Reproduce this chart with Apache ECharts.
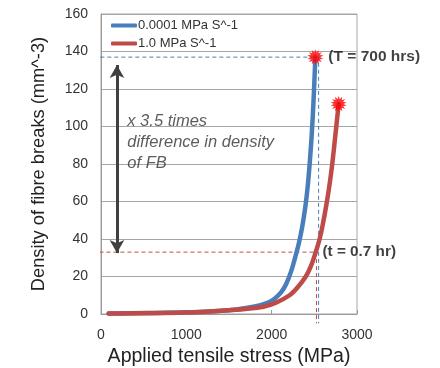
<!DOCTYPE html>
<html>
<head>
<meta charset="utf-8">
<script src="https://cdn.jsdelivr.net/npm/echarts@6/dist/echarts.min.js"></script>
<style>
  html, body { margin: 0; padding: 0; background: #fff; }
  #chart { width: 440px; height: 368px; }
</style>
</head>
<body>
<div id="chart"></div>
<script>
// stress (MPa) vs density of fibre breaks (mm^-3)
const slowStress = [90, 500, 1000, 1500, 1800, 1950, 2030, 2110, 2170, 2230, 2277, 2320, 2360, 2394, 2420, 2445, 2470, 2492, 2512]
const slowDensity = [0.3, 0.5, 0.9, 2, 4, 6, 8, 11.5, 16, 23, 30.5, 38, 47, 57, 67, 80, 96, 115, 137]
const fastStress = [90, 1000, 1500, 1906, 2050, 2210, 2300, 2400, 2460, 2512, 2562, 2600, 2640, 2675, 2710, 2748, 2785]
const fastDensity = [0.3, 0.8, 2, 3.9, 6, 10, 14, 20, 25.5, 32.4, 40, 48, 58, 68, 80, 96, 112]

const seriesNames = ['0.0001 MPa S^-1', '1.0 MPa S^-1']
const xTicks = [0, 3000, 1000]
const yTicks = [0, 160, 20]

// guide lines
const blueGuideX = [-90, 2550, 2550]
const blueGuideY = [137, 137, -5]
const redGuideX = [-100, 2525, 2525]
const redGuideY = [33, 33, -5]
const arrowX = 187
const arrowY = [132.8, 32.5]

const noteLines = ['x 3.5 times', 'difference in density', 'of FB']
const notePos = [308, 91.5]
const slowNote = '(T = 700 hrs)'
const fastNote = '(t = 0.7 hr)'

const zip = (xs, ys) => xs.map((x, i) => [x, ys[i]])

// spiky starburst symbol
let star = 'path://'
const spikes = 14
for (let i = 0; i < spikes * 2; i++) {
  const r = i % 2 === 0 ? 50 : 30
  const a = Math.PI * i / spikes
  star += (i === 0 ? 'M' : 'L') + (50 + r * Math.sin(a)).toFixed(1) + ',' + (50 - r * Math.cos(a)).toFixed(1)
}
star += 'Z'

const font = 'Liberation Sans, Arial, sans-serif'
const chart = echarts.init(document.getElementById('chart'))

const dashed = (data, color) => ({
  type: 'line',
  data: data,
  symbol: 'none',
  clip: false,
  silent: true,
  lineStyle: { color: color, width: 1, type: [4, 3] },
  z: 1
})

chart.setOption({
  animation: false,
  textStyle: { fontFamily: font },
  grid: {
    left: 101, right: 83, top: 14, bottom: 54,
    outerBoundsMode: 'none',
    show: true, borderColor: '#a6a6a6', borderWidth: 1
  },
  legend: {
    orient: 'vertical',
    left: 106,
    top: 14,
    itemWidth: 26,
    itemHeight: 4,
    itemGap: 5,
    icon: 'roundRect',
    data: seriesNames,
    textStyle: { fontFamily: font, fontSize: 13, color: '#333', padding: [0, 0, 0, -4] }
  },
  xAxis: {
    type: 'value',
    min: xTicks[0],
    max: xTicks[1],
    interval: xTicks[2],
    name: 'Applied tensile stress (MPa)',
    nameLocation: 'middle',
    nameGap: 29,
    nameTextStyle: { fontSize: 19.5, color: '#222' },
    axisLine: { lineStyle: { color: '#999' } },
    axisTick: { show: true, inside: true, length: 4, lineStyle: { color: '#999' } },
    axisLabel: { fontSize: 14, color: '#333', margin: 14, formatter: v => String(v) },
    splitLine: { show: false }
  },
  yAxis: {
    type: 'value',
    min: yTicks[0],
    max: yTicks[1],
    interval: yTicks[2],
    name: 'Density of fibre breaks (mm^-3)',
    nameLocation: 'middle',
    nameGap: 53,
    nameTextStyle: { fontSize: 18.3, color: '#222' },
    axisLine: { show: true, lineStyle: { color: '#999' } },
    axisTick: { show: false },
    axisLabel: { fontSize: 14, color: '#333', margin: 13 },
    splitLine: { lineStyle: { color: '#a6a6a6' } }
  },
  series: [
    dashed(zip(blueGuideX, blueGuideY), '#4a7ebb'),
    dashed(zip(redGuideX, redGuideY), '#be4b48'),
    {
      name: seriesNames[0],
      type: 'line',
      data: zip(slowStress, slowDensity),
      smooth: 0.35,
      symbol: 'none',
      color: '#4a7ebb',
      lineStyle: { width: 4.5, cap: 'round', join: 'round' },
      z: 3
    },
    {
      name: seriesNames[1],
      type: 'line',
      data: zip(fastStress, fastDensity),
      smooth: 0.35,
      symbol: 'none',
      color: '#be4b48',
      lineStyle: { width: 4.5, cap: 'round', join: 'round' },
      z: 4
    },
    {
      type: 'scatter',
      symbol: star,
      symbolSize: 16,
      itemStyle: { color: '#ff0000' },
      z: 6,
      data: [
        {
          value: [slowStress[slowStress.length - 1], slowDensity[slowDensity.length - 1]],
          label: { show: true, position: 'right', distance: 5, formatter: slowNote, fontWeight: 'bold', fontSize: 15.5, color: '#111' }
        },
        { value: [fastStress[fastStress.length - 1], fastDensity[fastDensity.length - 1]] }
      ]
    },
    {
      type: 'scatter',
      symbolSize: 0,
      silent: true,
      z: 6,
      data: [
        {
          value: [redGuideX[1], redGuideY[1]],
          label: { show: true, position: 'right', distance: 6, formatter: fastNote, fontWeight: 'bold', fontSize: 15.3, color: '#111' }
        },
        {
          value: notePos,
          label: {
            show: true,
            position: 'right',
            distance: 0,
            formatter: noteLines.join('\n'),
            fontStyle: 'italic',
            fontSize: 16.5,
            lineHeight: 21,
            color: '#333'
          }
        }
      ],
      markLine: {
        silent: true,
        symbol: ['arrow', 'arrow'],
        symbolSize: [11, 13],
        label: { show: false },
        lineStyle: { color: '#404040', width: 3, type: 'solid' },
        data: [[{ coord: [arrowX, arrowY[0]] }, { coord: [arrowX, arrowY[1]] }]]
      }
    }
  ]
})
</script>
</body>
</html>
